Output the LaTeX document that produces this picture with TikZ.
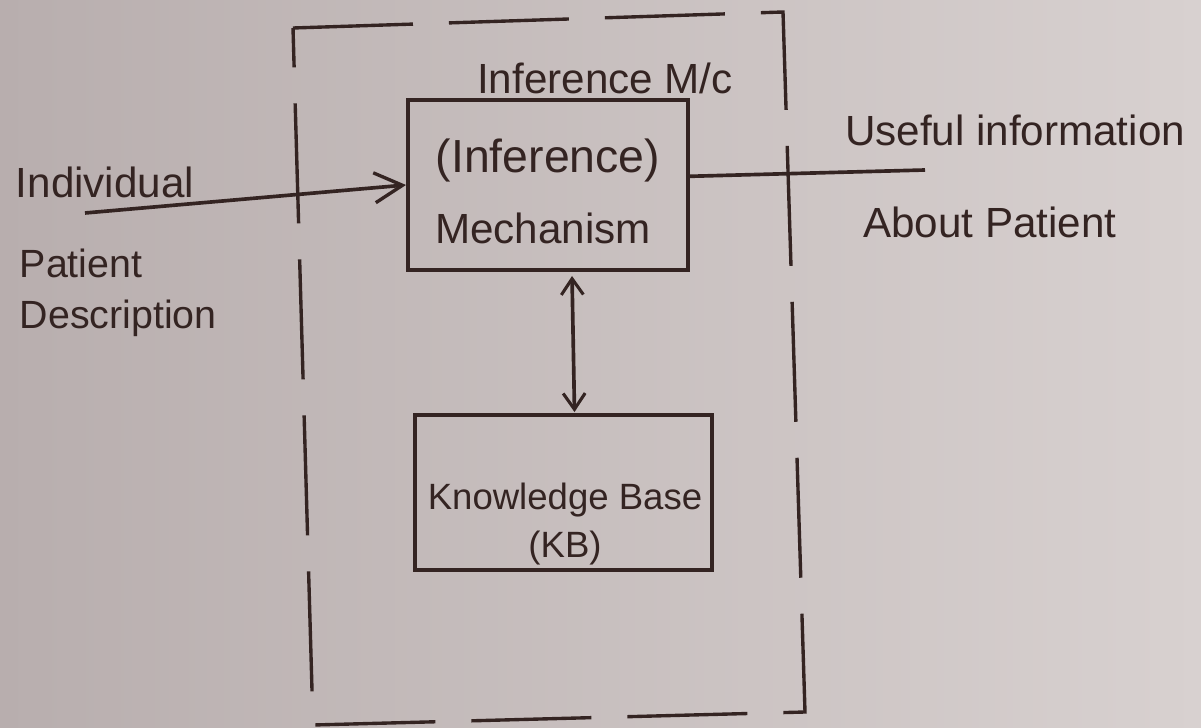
\documentclass[tikz,border=0pt]{standalone}
\usepackage{fontspec}
\setmainfont{Liberation Sans}
\usetikzlibrary{calc,arrows.meta}

\definecolor{ink}{RGB}{52,36,34}
\definecolor{paperL}{RGB}{184,174,174}
\definecolor{paperR}{RGB}{216,209,208}

\begin{document}
\begin{tikzpicture}[x=0.025cm, y=-0.025cm, line width=2.6pt, ink,
  box/.style={draw=ink, line width=2.8pt, inner sep=0pt},
  lbl/.style={text=ink, font=\fontsize{30}{36}\selectfont, inner sep=0pt},
  arr/.style={-{Straight Barb[length=0.7cm, width=0.75cm, line width=2.4pt]}},
  arrtwo/.style={{Straight Barb[length=0.4cm, width=0.55cm, line width=2.2pt]}-{Straight Barb[length=0.4cm, width=0.55cm, line width=2.2pt]}}]
  % paper
  \fill[left color=paperL, right color=paperR] (0,0) rectangle (1201,728);
  \useasboundingbox (0,0) rectangle (1201,728);
  % dashed frame
  \coordinate (tl) at (293,28);
  \coordinate (tr) at (783,12);
  \coordinate (br) at (805,712);
  \coordinate (bl) at (313,725);
  \draw[dash pattern=on 3cm off 0.9cm, line width=2.4pt] (tl) -- (tr) -- (br) -- (bl) -- cycle;
  % boxes
  \node[box, minimum width=7cm, minimum height=4.25cm] (im) at (548,185) {};
  \node[box, minimum width=7.425cm, minimum height=3.875cm] (kb) at (563.5,492.5) {};
  \node[lbl] (imname) at (605,78) {Inference M/c};
  \node[lbl, font=\fontsize{33}{38}\selectfont] (imtop) at (548,160) {(Inference)};
  \node[lbl] (imbot) at (543,228) {Mechanism};
  \node[lbl, font=\fontsize{26}{30}\selectfont] (kbtop) at (565,500) {Knowledge Base};
  \node[lbl, font=\fontsize{26}{30}\selectfont] (kbbot) at (565,548) {(KB)};
  % input
  \coordinate (inStart) at (85,213);
  \draw[arr] (inStart) -- (im.west);
  \node[lbl] (indiv) at (105,182) {Individual};
  \node[lbl, anchor=west, align=left, font=\fontsize{28}{36}\selectfont] (desc) at (18,293) {Patient\\Description};
  % output
  \coordinate (outEnd) at (925,170);
  \draw ($(im.north east)!0.45!(im.south east)$) -- (outEnd);
  \node[lbl] (useful) at (1015,130) {Useful information};
  \node[lbl] (about) at (990,222) {About Patient};
  % im <-> kb
  \draw[arrtwo] ($(im.south)+(24,4)$) -- ($(kb.north)+(11,-1)$);
\end{tikzpicture}
\end{document}
